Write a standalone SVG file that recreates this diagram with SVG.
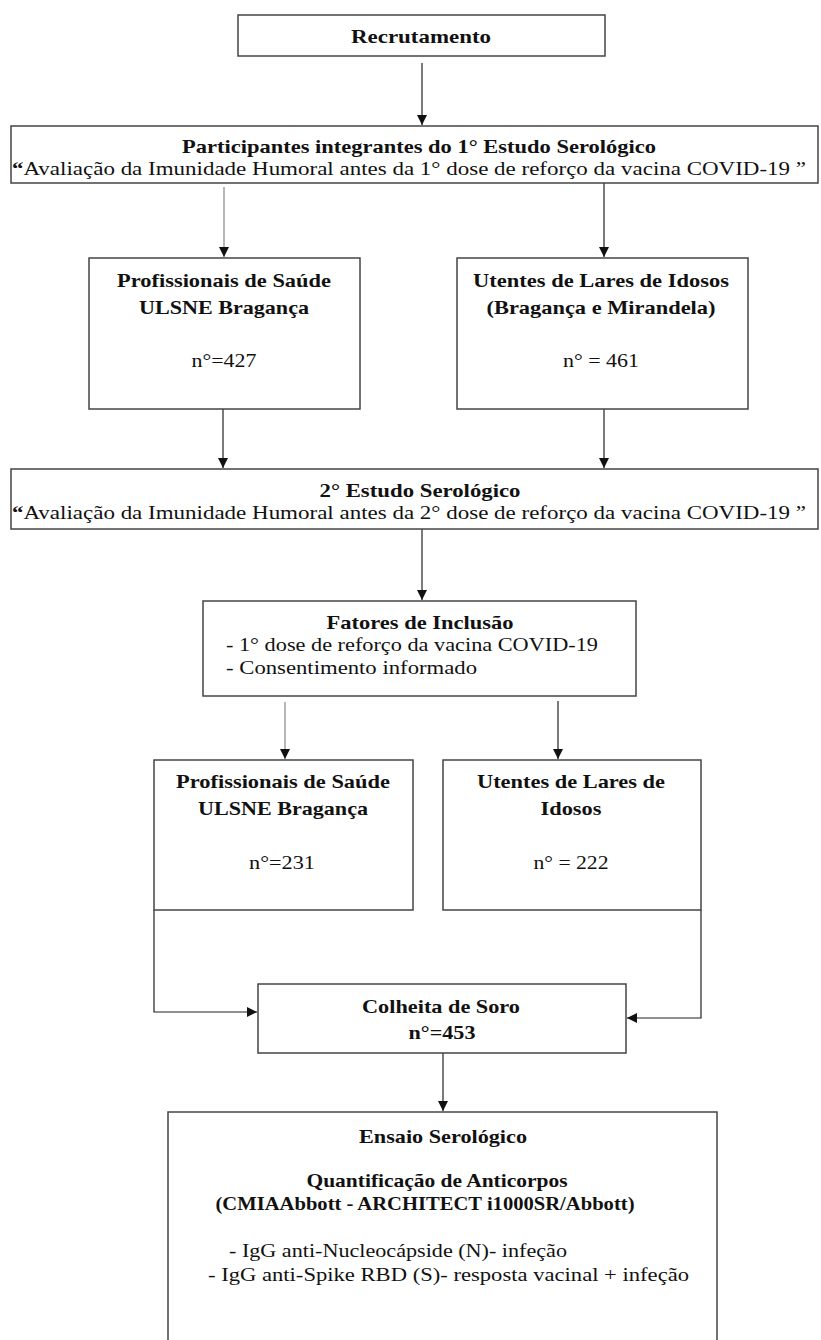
<svg xmlns="http://www.w3.org/2000/svg" width="821" height="1340" viewBox="0 0 821 1340">
<style>
.box{fill:#fff;stroke:#444;stroke-width:1.5}
.t{font-family:"Liberation Serif","Times New Roman",serif;font-size:19px;fill:#111}
.b{font-weight:bold}
.c{text-anchor:middle}
.s{font-size:19.5px}
.ln{fill:none;stroke:#222;stroke-width:1.2}
.g{stroke:#888}
</style>
<defs>
<marker id="ah" markerUnits="userSpaceOnUse" markerWidth="10" markerHeight="11" refX="10" refY="5" orient="auto">
<path d="M0,0 L10,5 L0,10 Z" fill="#111"/>
</marker>
</defs>
<rect width="821" height="1340" fill="#fff"/>
<g id="connectors">
<line class="ln" x1="422" y1="63" x2="422" y2="125" marker-end="url(#ah)"/>
<line class="ln g" x1="224" y1="187" x2="224" y2="257" marker-end="url(#ah)"/>
<line class="ln" x1="604" y1="183" x2="604" y2="257" marker-end="url(#ah)"/>
<line class="ln" x1="223" y1="409" x2="223" y2="468" marker-end="url(#ah)"/>
<line class="ln" x1="604" y1="409" x2="604" y2="468" marker-end="url(#ah)"/>
<line class="ln" x1="422" y1="529" x2="422" y2="600" marker-end="url(#ah)"/>
<line class="ln g" x1="285" y1="702" x2="285" y2="759" marker-end="url(#ah)"/>
<line class="ln" x1="558" y1="701" x2="558" y2="759" marker-end="url(#ah)"/>
<path class="ln" d="M154 910 V1012 H257" marker-end="url(#ah)"/>
<path class="ln" d="M701 910 V1018 H627" marker-end="url(#ah)"/>
<line class="ln" x1="443" y1="1053" x2="443" y2="1111" marker-end="url(#ah)"/>
</g>
<g id="recrutamento">
<rect class="box" x="238" y="15" width="367" height="41"/>
<text class="t b c" x="421" y="43" textLength="140" lengthAdjust="spacingAndGlyphs">Recrutamento</text>
</g>
<g id="estudo1">
<rect class="box" x="11" y="126" width="807" height="57"/>
<text class="t b c" x="419" y="153" textLength="474" lengthAdjust="spacingAndGlyphs">Participantes integrantes do 1° Estudo Serológico</text>
<text class="t c" x="409" y="175" textLength="794" lengthAdjust="spacingAndGlyphs"><tspan class="b">“</tspan>Avaliação  da Imunidade Humoral antes da 1° dose de reforço da vacina COVID-19 ”</text>
</g>
<g id="prof1">
<rect class="box" x="89" y="258" width="271" height="151"/>
<text class="t b c" x="224" y="287" textLength="214" lengthAdjust="spacingAndGlyphs">Profissionais de Saúde</text>
<text class="t b c" x="224" y="314" textLength="170" lengthAdjust="spacingAndGlyphs">ULSNE Bragança</text>
<text class="t c" x="224" y="367" textLength="65" lengthAdjust="spacingAndGlyphs">n°=427</text>
</g>
<g id="utentes1">
<rect class="box" x="457" y="258" width="291" height="151"/>
<text class="t b c" x="601" y="287" textLength="256" lengthAdjust="spacingAndGlyphs">Utentes de Lares de Idosos</text>
<text class="t b c" x="601" y="314" textLength="229" lengthAdjust="spacingAndGlyphs">(Bragança e Mirandela)</text>
<text class="t c" x="601" y="367" textLength="76" lengthAdjust="spacingAndGlyphs">n° = 461</text>
</g>
<g id="estudo2">
<rect class="box" x="11" y="469" width="807" height="60"/>
<text class="t b c" x="420" y="497" textLength="201" lengthAdjust="spacingAndGlyphs">2° Estudo Serológico</text>
<text class="t c" x="409" y="519" textLength="794" lengthAdjust="spacingAndGlyphs"><tspan class="b">“</tspan>Avaliação  da Imunidade Humoral antes da 2° dose de reforço da vacina COVID-19 ”</text>
</g>
<g id="fatores">
<rect class="box" x="203" y="601" width="433" height="95"/>
<text class="t b c" x="420" y="629" textLength="187" lengthAdjust="spacingAndGlyphs">Fatores de Inclusão</text>
<text class="t" x="226" y="651" textLength="372" lengthAdjust="spacingAndGlyphs">- 1° dose de reforço da vacina COVID-19</text>
<text class="t" x="226" y="674" textLength="251" lengthAdjust="spacingAndGlyphs">- Consentimento informado</text>
</g>
<g id="prof2">
<rect class="box" x="154" y="760" width="259" height="150"/>
<text class="t b c" x="283" y="788" textLength="214" lengthAdjust="spacingAndGlyphs">Profissionais de Saúde</text>
<text class="t b c" x="283" y="815" textLength="170" lengthAdjust="spacingAndGlyphs">ULSNE Bragança</text>
<text class="t c" x="282" y="869" textLength="66" lengthAdjust="spacingAndGlyphs">n°=231</text>
</g>
<g id="utentes2">
<rect class="box" x="443" y="760" width="258" height="150"/>
<text class="t b c" x="571" y="788" textLength="188" lengthAdjust="spacingAndGlyphs">Utentes de Lares de</text>
<text class="t b c" x="571" y="815" textLength="61" lengthAdjust="spacingAndGlyphs">Idosos</text>
<text class="t c" x="571" y="869" textLength="75" lengthAdjust="spacingAndGlyphs">n° = 222</text>
</g>
<g id="colheita">
<rect class="box" x="258" y="984" width="368" height="69"/>
<text class="t b c" x="441" y="1013" textLength="158" lengthAdjust="spacingAndGlyphs">Colheita  de Soro</text>
<text class="t b c" x="442" y="1039" textLength="67" lengthAdjust="spacingAndGlyphs">n°=453</text>
</g>
<g id="ensaio">
<rect class="box" x="168" y="1112" width="549" height="240"/>
<text class="t s b c" x="443" y="1143" textLength="168" lengthAdjust="spacingAndGlyphs">Ensaio Serológico</text>
<text class="t s b c" x="437" y="1187" textLength="261" lengthAdjust="spacingAndGlyphs">Quantificação de Anticorpos</text>
<text class="t s b c" x="425" y="1210" textLength="419" lengthAdjust="spacingAndGlyphs">(CMIAAbbott - ARCHITECT i1000SR/Abbott)</text>
<text class="t s" x="229" y="1257" textLength="338" lengthAdjust="spacingAndGlyphs">- IgG anti-Nucleocápside (N)- infeção</text>
<text class="t s" x="208" y="1281" textLength="481" lengthAdjust="spacingAndGlyphs">- IgG anti-Spike RBD (S)- resposta vacinal + infeção</text>
</g>
</svg>
